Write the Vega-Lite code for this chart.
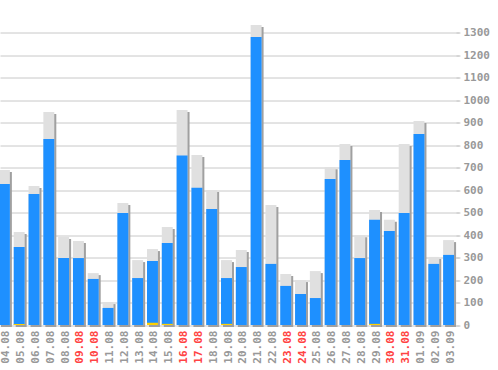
{
  "$schema": "https://vega.github.io/schema/vega-lite/v6.json",
  "width": 456,
  "height": 314.5,
  "autosize": {"type": "none"},
  "padding": {"left": 0, "top": 10.5, "right": 42, "bottom": 45},
  "background": "white",
  "config": {
    "view": {"stroke": null},
    "axis": {"labelFont": "DejaVu Sans Mono", "labelFontWeight": "bold", "labelFontSize": 11}
  },
  "data": {
    "values": [
      {"date": "04.08", "total": 690, "blue": 628, "yellow": 0},
      {"date": "05.08", "total": 414, "blue": 347, "yellow": 5},
      {"date": "06.08", "total": 619, "blue": 583, "yellow": 0},
      {"date": "07.08", "total": 948, "blue": 828, "yellow": 0},
      {"date": "08.08", "total": 392, "blue": 298, "yellow": 0},
      {"date": "09.08", "total": 374, "blue": 298, "yellow": 0},
      {"date": "10.08", "total": 231, "blue": 205, "yellow": 0},
      {"date": "11.08", "total": 102, "blue": 76, "yellow": 0},
      {"date": "12.08", "total": 543, "blue": 499, "yellow": 0},
      {"date": "13.08", "total": 289, "blue": 209, "yellow": 0},
      {"date": "14.08", "total": 338, "blue": 285, "yellow": 10},
      {"date": "15.08", "total": 436, "blue": 365, "yellow": 5},
      {"date": "16.08", "total": 957, "blue": 754, "yellow": 0},
      {"date": "17.08", "total": 757, "blue": 611, "yellow": 0},
      {"date": "18.08", "total": 601, "blue": 516, "yellow": 0},
      {"date": "19.08", "total": 289, "blue": 209, "yellow": 5},
      {"date": "20.08", "total": 334, "blue": 258, "yellow": 0},
      {"date": "21.08", "total": 1336, "blue": 1282, "yellow": 0},
      {"date": "22.08", "total": 534, "blue": 272, "yellow": 0},
      {"date": "23.08", "total": 227, "blue": 174, "yellow": 0},
      {"date": "24.08", "total": 200, "blue": 138, "yellow": 0},
      {"date": "25.08", "total": 240, "blue": 120, "yellow": 0},
      {"date": "26.08", "total": 702, "blue": 650, "yellow": 0},
      {"date": "27.08", "total": 806, "blue": 735, "yellow": 0},
      {"date": "28.08", "total": 400, "blue": 298, "yellow": 0},
      {"date": "29.08", "total": 512, "blue": 468, "yellow": 5},
      {"date": "30.08", "total": 468, "blue": 418, "yellow": 0},
      {"date": "31.08", "total": 806, "blue": 499, "yellow": 0},
      {"date": "01.09", "total": 908, "blue": 850, "yellow": 0},
      {"date": "02.09", "total": 303, "blue": 272, "yellow": 0},
      {"date": "03.09", "total": 378, "blue": 312, "yellow": 0}
    ]
  },
  "encoding": {
    "x": {
      "field": "date",
      "type": "ordinal",
      "sort": null,
      "scale": {"range": [-3, 456], "paddingInner": 0.26, "paddingOuter": 0.13},
      "axis": {
        "title": null,
        "domain": false,
        "ticks": false,
        "labelAngle": 270,
        "labelAlign": "right",
        "labelBaseline": "middle",
        "labelPadding": 5,
        "labelOffset": 2,
        "labelOverlap": false,
        "labelBound": false,
        "labelColor": {
          "condition": {"test": "indexof(['09.08','10.08','16.08','17.08','23.08','24.08','30.08','31.08'], datum.value) >= 0", "value": "#ff4444"},
          "value": "#999999"
        }
      }
    }
  },
  "layer": [
    {
      "mark": {"type": "bar", "color": "#a0a0a0", "xOffset": 2, "yOffset": 2, "y2Offset": 2, "clip": false},
      "encoding": {
        "y": {
          "field": "total",
          "type": "quantitative",
          "scale": {"domain": [0, 1400], "nice": false},
          "axis": {"orient": "right", "title": null, "values": [0,100,200,300,400,500,600,700,800,900,1000,1100,1200,1300], "format": "d", "labelOverlap": false, "domain": false, "grid": true, "gridColor": "#c8c8c8", "tickColor": "#c8c8c8", "tickSize": 4, "labelPadding": 3, "labelColor": "#999999", "labelBaseline": "middle", "labelFlush": false}
        }
      }
    },
    {
      "mark": {"type": "bar", "color": "#e0e0e0"},
      "encoding": {"y": {"field": "total", "type": "quantitative",
        "axis": {"orient": "right", "title": null, "values": [0,100,200,300,400,500,600,700,800,900,1000,1100,1200,1300], "format": "d", "labelOverlap": false, "domain": false, "grid": true, "gridColor": "#c8c8c8", "tickColor": "#c8c8c8", "tickSize": 4, "labelPadding": 3, "labelColor": "#999999", "labelBaseline": "middle", "labelFlush": false}}}
    },
    {
      "mark": {"type": "bar", "color": "#1e90ff"},
      "encoding": {"y": {"field": "blue", "type": "quantitative",
        "axis": {"orient": "right", "title": null, "values": [0,100,200,300,400,500,600,700,800,900,1000,1100,1200,1300], "format": "d", "labelOverlap": false, "domain": false, "grid": true, "gridColor": "#c8c8c8", "tickColor": "#c8c8c8", "tickSize": 4, "labelPadding": 3, "labelColor": "#999999", "labelBaseline": "middle", "labelFlush": false}}}
    },
    {
      "transform": [{"filter": "datum.yellow > 0"}],
      "mark": {"type": "bar", "color": "#ffd000"},
      "encoding": {"y": {"field": "yellow", "type": "quantitative",
        "axis": {"orient": "right", "title": null, "values": [0,100,200,300,400,500,600,700,800,900,1000,1100,1200,1300], "format": "d", "labelOverlap": false, "domain": false, "grid": true, "gridColor": "#c8c8c8", "tickColor": "#c8c8c8", "tickSize": 4, "labelPadding": 3, "labelColor": "#999999", "labelBaseline": "middle", "labelFlush": false}}}
    }
  ]
}
